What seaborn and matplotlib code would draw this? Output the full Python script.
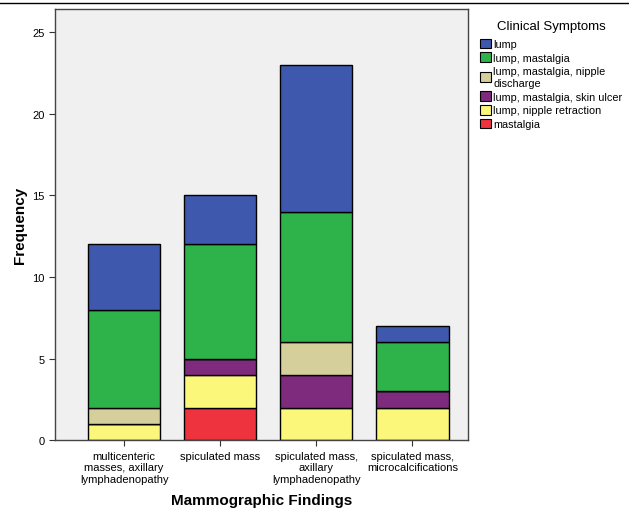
import numpy as np
import matplotlib.pyplot as plt
import seaborn as sns
from matplotlib.patches import Patch
from matplotlib.lines import Line2D

findings = ['multicenteric\nmasses, axillary\nlymphadenopathy', 'spiculated mass',
            'spiculated mass,\naxillary\nlymphadenopathy', 'spiculated mass,\nmicrocalcifications']

# stacked bottom -> top
symptoms = ['mastalgia', 'lump, nipple retraction', 'lump, mastalgia, skin ulcer',
            'lump, mastalgia, nipple\ndischarge', 'lump, mastalgia', 'lump']
mastalgia = [0, 2, 0, 0]
nipple_retraction = [1, 2, 2, 2]
skin_ulcer = [0, 1, 2, 1]
nipple_discharge = [1, 0, 2, 0]
lump_mastalgia = [6, 7, 8, 3]
lump = [4, 3, 9, 1]
counts = [mastalgia, nipple_retraction, skin_ulcer, nipple_discharge, lump_mastalgia, lump]
colors = ['#EE333E', '#FAF77A', '#7E2A7D', '#D5CF9B', '#2EB34A', '#3E58AD']

plt.rcParams['font.family'] = ['Liberation Sans', 'DejaVu Sans']

fig = plt.figure(figsize=(6.29, 5.10), dpi=100)
ax = fig.add_axes([0.0874, 0.135, 0.657, 0.845])
ax.set_facecolor('#F0F0F0')

bottom = np.zeros(len(findings))
for vals, col in zip(counts, colors):
    sns.barplot(x=findings, y=vals, bottom=bottom, color=col, width=0.75,
                saturation=1, edgecolor='black', linewidth=1, ax=ax)
    bottom += np.array(vals)

ax.set_ylim(0, 26.4)
ax.set_xlim(-0.72, 3.58)
ax.set_yticks([0, 5, 10, 15, 20, 25])
ax.tick_params(axis='both', direction='out', length=4, labelsize=8, colors='#333333',
               labelcolor='black')
ax.tick_params(axis='x', pad=4)
for lbl in ax.get_xticklabels():
    lbl.set_linespacing(1.15)
for s in ax.spines.values():
    s.set_color('#444444')
    s.set_linewidth(1)

ax.set_ylabel('Frequency', fontsize=11, fontweight='bold', labelpad=4)
ax.set_xlabel('Mammographic Findings', fontsize=11, fontweight='bold', labelpad=7)

handles = [Patch(facecolor=c, edgecolor='black', linewidth=0.8, label=l)
           for c, l in zip(colors[::-1], symptoms[::-1])]
leg = fig.legend(handles=handles, title='Clinical Symptoms', loc='upper left',
                 bbox_to_anchor=(0.757, 0.968), frameon=False, fontsize=7.8,
                 title_fontsize=9.5, handlelength=1.0, handleheight=1.0,
                 handletextpad=0.2, labelspacing=0.3, borderaxespad=0)
leg._legend_box.align = 'center'
leg._legend_box.sep = 5

fig.add_artist(Line2D([0, 1], [0.992, 0.992], color='black', linewidth=1,
                      transform=fig.transFigure))

fig.savefig('out.png', dpi=100)
